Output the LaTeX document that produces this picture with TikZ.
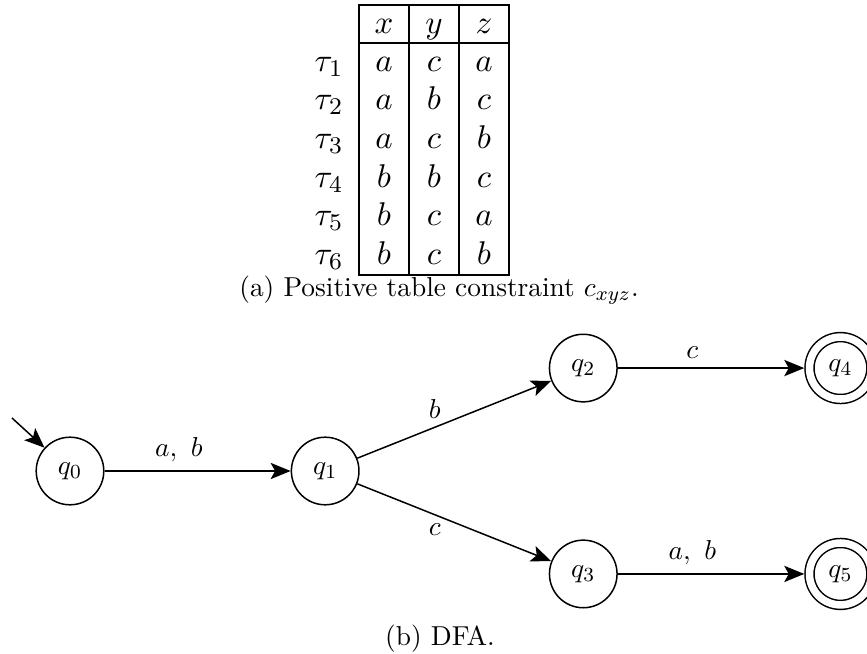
\documentclass[tikz,border=0pt]{standalone}
\usepackage{tikz}
\usetikzlibrary{arrows.meta, positioning}
\tikzstyle{state} = [circle, minimum size=0.95cm, inner sep=0pt, draw=black, semithick]
\tikzstyle{accept} = [circle, minimum size=0.87cm, inner sep=0pt, outer sep=2.1pt, draw=black, semithick, double, double distance=3pt]
\tikzstyle{cell} = [inner sep=0pt, text height=1.5ex, text depth=.25ex, scale=1.2]
\tikzstyle{rule} = [line width=0.5pt]
\tikzstyle{arrow} = [semithick, -{Stealth[length=8pt, width=6.5pt, inset=1.8pt]}]

\begin{document}
\begin{tikzpicture}[x=0.01406cm, y=-0.01406cm, font=\fontsize{10.95pt}{13.6pt}\selectfont]
    \useasboundingbox (0,0) rectangle (867,654);

    % table of tuples
    \node (hx) [cell] at (384,25) {$x$};
    \node (hy) [cell] at (434,25) {$y$};
    \node (hz) [cell] at (484,25) {$z$};
    \foreach \vx/\vy/\vz [count=\i] in {a/c/a, a/b/c, a/c/b, b/b/c, b/c/a, b/c/b} {
        \node (tau\i) [cell] at (329,{24.6+38.6*\i}) {$\tau_{\i}$};
        \node (x\i) [cell] at (384,{24.6+38.6*\i}) {$\vx$};
        \node (y\i) [cell] at (434,{24.6+38.6*\i}) {$\vy$};
        \node (z\i) [cell] at (484,{24.6+38.6*\i}) {$\vz$};
    }
    \draw [rule] (359,5) rectangle (509,275);
    \draw [rule] (359,43) -- (509,43);
    \draw [rule] (409,5) -- (409,275);
    \draw [rule] (459,5) -- (459,275);
    \node (capa) at (439,290) {(a) Positive table constraint $c_{xyz}$.};

    % automaton
    \node (q0) [state] at (70,471) {$q_0$};
    \node (q1) [state, right=2.615cm of q0] {$q_1$};
    \node (q2) [state, above right=0.76cm and 2.94cm of q1] {$q_2$};
    \node (q3) [state, below right=0.76cm and 2.94cm of q1] {$q_3$};
    \node (q4) [accept, right=2.62cm of q2] {$q_4$};
    \node (q5) [accept, right=2.62cm of q3] {$q_5$};
    \coordinate (start) at (12,418);

    \draw [arrow] (start) -- (q0);
    \draw [arrow] (q0) -- node[above, pos=0.4] {$a,\ b$} (q1);
    \draw [arrow] (q1) -- node[above, pos=0.4] {$b$} (q2);
    \draw [arrow] (q1) -- node[below, pos=0.4] {$c$} (q3);
    \draw [arrow] (q2) -- node[above, pos=0.4] {$c$} (q4);
    \draw [arrow] (q3) -- node[above, pos=0.4] {$a,\ b$} (q5);
    \node (capb) at (440,639) {(b) DFA.};
\end{tikzpicture}
\end{document}
